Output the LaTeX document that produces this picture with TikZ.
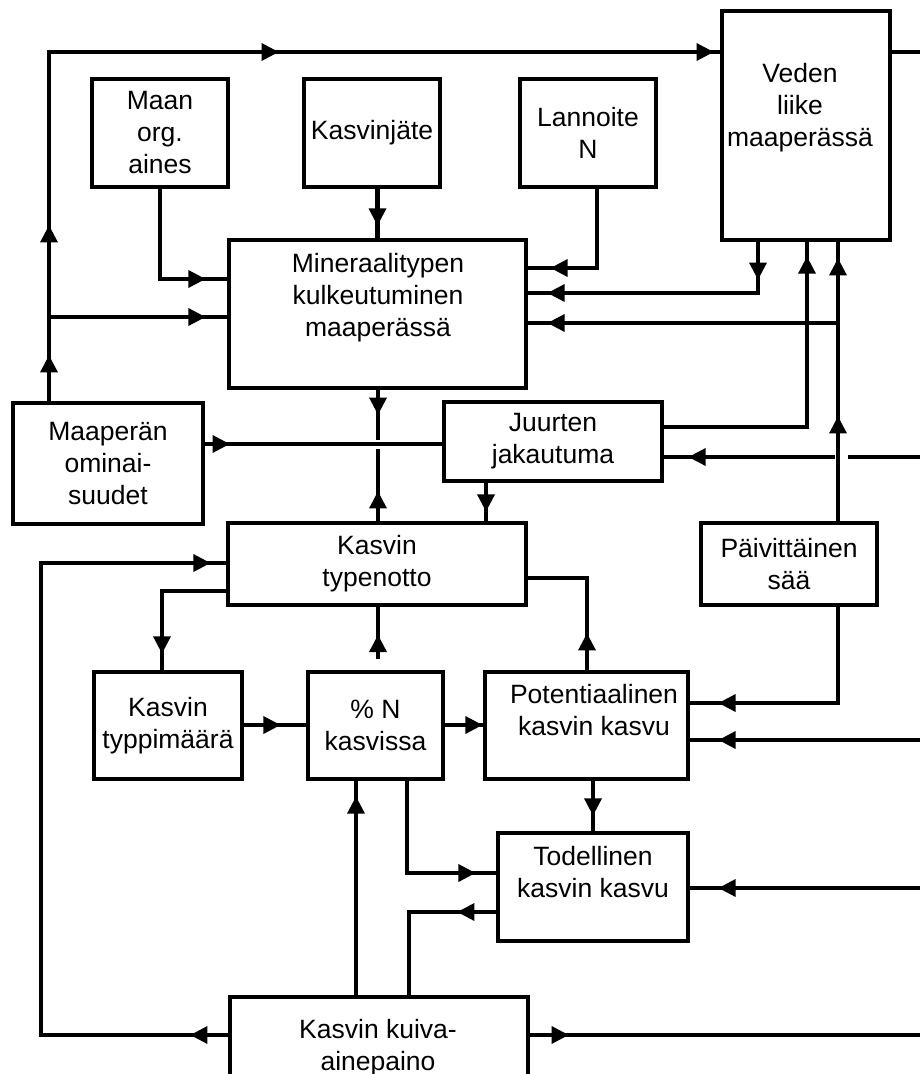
\documentclass[tikz,border=0pt]{standalone}
\usepackage{fontspec}
\setmainfont{Liberation Sans}
\usetikzlibrary{decorations.markings}
\tikzset{
  box/.style={draw, line width=3.2pt, inner sep=0pt, align=center, font=\fontsize{26.5}{32}\selectfont},
  txt/.style={inner sep=0pt, align=center, font=\fontsize{26.5}{32}\selectfont},
  conn/.style={line width=4.3pt},
  mk/.style={postaction={decorate,decoration={markings,mark=at position #1 with {\fill (0pt,0pt) -- (-17pt,9pt) -- (-17pt,-9pt) -- cycle;}}}},
}
\begin{document}
\begin{tikzpicture}[x=1pt,y=-1pt]
\useasboundingbox (0,0) rectangle (920,1074);
\clip (0,0) rectangle (920,1074);
% boxes
\node[box, minimum width=136pt, minimum height=108pt] (maan) at (160,133) {Maan\\org.\\aines};
\node[box, minimum width=136pt, minimum height=108pt] (kasj) at (372,133) {Kasvinjäte};
\node[box, minimum width=136pt, minimum height=108pt] (lann) at (588,133) {Lannoite\\N};
\node[box, minimum width=168pt, minimum height=229pt] (veden) at (806,125.5) {};
\node[txt] (vedenT) at (800,108) {Veden\\liike\\maaperässä};
\node[box, minimum width=297pt, minimum height=148pt] (miner) at (377.5,314) {};
\node[txt] (minerT) at (378,298) {Mineraalitypen\\kulkeutuminen\\maaperässä};
\node[box, minimum width=190pt, minimum height=121pt] (maap) at (108,463.5) {Maaperän\\ominai-\\suudet};
\node[box, minimum width=218pt, minimum height=79pt] (juur) at (553,441.5) {Juurten\\jakautuma};
\node[box, minimum width=298pt, minimum height=82pt] (typen) at (377,564) {Kasvin\\typenotto};
\node[box, minimum width=176pt, minimum height=82pt] (paiv) at (789,564) {Päivittäinen\\sää};
\node[box, minimum width=148pt, minimum height=107pt] (typpi) at (168,725.5) {Kasvin\\typpimäärä};
\node[box, minimum width=135pt, minimum height=107pt] (pctN) at (375.5,725.5) {\% N\\kasvissa};
\node[box, minimum width=203pt, minimum height=107pt] (pot) at (586.5,725.5) {};
\node[txt] (potT) at (594,710) {Potentiaalinen\\kasvin kasvu};
\node[box, minimum width=190pt, minimum height=108pt] (tod) at (593,887) {};
\node[txt] (todT) at (593,872) {Todellinen\\kasvin kasvu};
\node[box, minimum width=298pt, minimum height=113pt] (kuiva) at (379,1053.5) {};
\node[txt] (kuivaT) at (378,1048) {Kasvin kuiva-\\ainepaino};
% coordinates
\coordinate (tl) at (49,52);
\coordinate (j1) at (49,317);
\coordinate (j2) at (838,323);
\coordinate (r52) at (920,52);
\coordinate (r457) at (920,457);
\coordinate (g1) at (848,457);
\coordinate (g2) at (835,457);
\coordinate (r740) at (920,740);
\coordinate (r888) at (920,888);
\coordinate (r1035) at (920,1035);
\coordinate (c1) at (378,440);
\coordinate (c2) at (378,449);
\coordinate (c3) at (378,659);
\coordinate (c4) at (41,563);
% connectors
\draw[conn, mk=46pt, mk=176pt, mk=579pt, mk=1014pt] (maap.north -| tl) -- (tl) -- (veden.west |- tl);
\draw[conn] (veden.east |- tl) -- (r52);
\draw[conn, mk=-22pt] (j1) -- (j1 -| miner.west);
\draw[conn, mk=-22pt] (maan.south) |- (miner.west |- 0,279);
\draw[conn, mk=-13pt] (miner.north |- kasj.south) -- (miner.north);
\draw[conn, mk=-23pt] ([xshift=9pt]lann.south) |- (miner.east |- 0,268);
\draw[conn, mk=38pt, mk=-20pt] (veden.south -| 758,0) |- (miner.east |- 0,293);
\draw[conn, mk=105pt, mk=263pt] (paiv.north -| 838,0) -- (veden.south -| 838,0);
\draw[conn, mk=-20pt] (j2) -- (j2 -| miner.east);
\draw[conn, mk=-15pt] (juur.east |- 0,427) -| (veden.south -| 807,0);
\draw[conn] (r457) -- (g1);
\draw[conn, mk=-25pt] (g2) -- (juur.east |- g2);
\draw[conn, mk=25pt] (maap.east |- 0,444) -- (juur.west |- 0,444);
\draw[conn, mk=25pt] (miner.south -| c1) -- (c1);
\draw[conn, mk=30pt] (typen.north -| c2) -- (c2);
\draw[conn, mk=-10pt] (juur.south -| 486,0) -- (typen.north -| 486,0);
\draw[conn, mk=37pt] (pot.north -| 587,0) |- (typen.east |- 0,578);
\draw[conn, mk=-29pt] (paiv.south -| 838,0) |- (pot.east |- 0,703);
\draw[conn, mk=-29pt] (r740) -- (pot.east |- r740);
\draw[conn, mk=-16pt] (pot.south -| 593,0) -- (tod.north -| 593,0);
\draw[conn, mk=-29pt] (r888) -- (tod.east |- r888);
\draw[conn, mk=-17pt] (typen.west |- 0,591) -| (typpi.north -| 162,0);
\draw[conn, mk=-26pt] (typpi.east |- 0,725) -- (pctN.west |- 0,725);
\draw[conn, mk=-1pt] (pctN.east |- 0,725) -- (pot.west |- 0,725);
\draw[conn, mk=24pt] (c3) -- (typen.south -| c3);
\draw[conn, mk=-21pt] (pctN.south -| 407,0) |- (tod.west |- 0,873);
\draw[conn, mk=39pt] (tod.west |- 0,912) -| (kuiva.north -| 409,0);
\draw[conn, mk=-16pt] (kuiva.north -| 356,0) -- (pctN.south -| 356,0);
\draw[conn, mk=38pt, mk=-16pt] (kuiva.west |- 0,1035) -| (c4) -- (typen.west |- c4);
\draw[conn, mk=39pt] (kuiva.east |- 0,1035) -- (r1035);
\end{tikzpicture}
\end{document}
